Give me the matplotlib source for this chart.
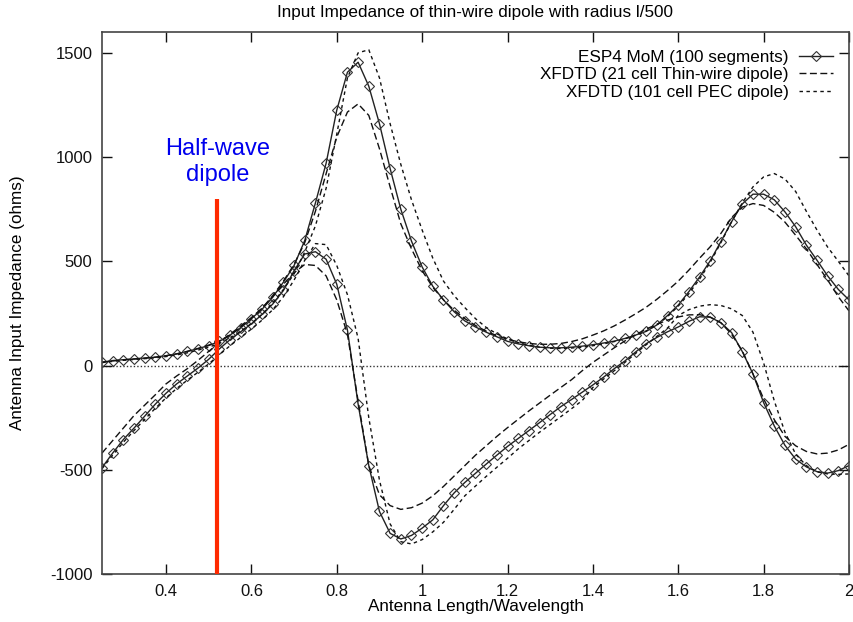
import numpy as np
import matplotlib
matplotlib.use("Agg")
import matplotlib.pyplot as plt

plt.rcParams['font.family'] = ['Liberation Sans', 'DejaVu Sans']

# electrical length grid (antenna length / wavelength)
x_len = np.round(np.arange(0.25, 2.0001, 0.025), 3)

# ESP4 MoM (100 segments)
mom_R = [15, 24, 28, 32, 36, 40, 47, 56, 68, 81, 96, 116, 146, 182, 225, 270, 328, 400, 480, 600,
         780, 970, 1225, 1407, 1455, 1340, 1160, 945, 750, 597, 473, 380, 315, 258, 214, 185, 160, 138,
         116, 104, 95, 88, 85, 85, 88, 93, 100, 108, 117, 130, 146, 164, 195, 240, 290, 355, 425, 503,
         595, 690, 775, 822, 822, 795, 737, 666, 578, 505, 430, 365, 315]
mom_X = [-490, -420, -355, -300, -243, -185, -133, -88, -50, -12, 30, 80, 124, 162, 200, 245, 295, 360,
         455, 535, 546, 510, 390, 170, -185, -480, -700, -805, -832, -815, -780, -740, -672, -611, -561,
         -517, -473, -430, -388, -350, -312, -274, -235, -197, -163, -128, -93, -56, -15, 22, 65, 105,
         135, 162, 185, 212, 234, 232, 205, 158, 67, -40, -178, -290, -383, -449, -486, -509, -516,
         -504, -480]

# XFDTD (21 cell Thin-wire dipole)
fd21_R = [16, 22, 27, 31, 35, 40, 47, 56, 68, 82, 98, 118, 147, 183, 226, 275, 335, 405, 485, 590,
          740, 920, 1096, 1216, 1255, 1200, 1040, 857, 680, 560, 455, 375, 315, 265, 225, 192, 165, 143,
          126, 114, 106, 102, 102, 106, 115, 128, 146, 166, 190, 218, 248, 280, 318, 360, 405, 458, 515,
          570, 634, 710, 760, 777, 768, 735, 688, 625, 560, 485, 410, 330, 262]
fd21_X = [-420, -360, -300, -240, -190, -140, -88, -50, -15, 25, 68, 110, 150, 190, 230, 275, 330, 390,
          445, 485, 480, 430, 315, 150, -170, -480, -620, -672, -690, -682, -660, -625, -580, -530, -480,
          -430, -385, -340, -298, -258, -218, -180, -142, -105, -68, -25, 15, 50, 85, 118, 148, 175,
          198, 218, 233, 243, 244, 232, 205, 150, 70, -40, -160, -260, -340, -385, -412, -424, -420,
          -405, -378]

# XFDTD (101 cell PEC dipole)
fd101_R = [14, 20, 25, 29, 33, 37, 43, 51, 61, 74, 88, 106, 132, 164, 202, 246, 300, 365, 440, 545,
           670, 850, 1110, 1380, 1500, 1515, 1380, 1160, 965, 795, 650, 515, 405, 335, 278, 225, 183,
           152, 128, 110, 97, 88, 83, 82, 84, 88, 95, 104, 115, 128, 145, 166, 195, 235, 285, 345, 415,
           495, 590, 690, 780, 857, 905, 921, 895, 835, 740, 650, 568, 500, 430]
fd101_X = [-495, -430, -368, -312, -258, -205, -155, -110, -70, -32, 8, 52, 95, 135, 175, 218, 268, 330,
           410, 505, 585, 580, 480, 340, 130, -250, -550, -760, -845, -856, -835, -798, -752, -690,
           -625, -578, -532, -488, -445, -400, -360, -320, -283, -245, -207, -168, -105, -65, -25, 15,
           58, 100, 140, 180, 240, 268, 285, 292, 288, 272, 240, 160, 13, -170, -320, -425, -480, -510,
           -520, -522, -520]

half_wave = 0.52
half_wave_top = 800

x_ticks = [0.4, 0.6, 0.8, 1.0, 1.2, 1.4, 1.6, 1.8, 2.0]
x_ticklabels = ["0.4", "0.6", "0.8", "1", "1.2", "1.4", "1.6", "1.8", "2"]
y_ticks = [-1000, -500, 0, 500, 1000, 1500]
y_ticklabels = ["-1000", "-500", "0", "500", "1000", "1500"]

W, H = 854, 622
L, R, T, B = 102, 849, 32, 574
fig = plt.figure(figsize=(W / 100, H / 100), dpi=100)
ax = fig.add_axes([L / W, 1 - B / H, (R - L) / W, (B - T) / H])

fs = 12.3
ax.axhline(0, color='#333333', lw=1.0, ls=(0, (1, 1.5)), zorder=1)

mom_style = dict(color='#222222', lw=1.0, marker='D', ms=5.5, mfc='none', mec='#333333', mew=0.8)
ax.plot(x_len, mom_R, label='ESP4 MoM (100 segments)', **mom_style)
ax.plot(x_len, mom_X, **mom_style)

ld = dict(color='#111111', lw=1.0, ls=(0, (5, 2.5)))
ax.plot(x_len, fd21_R, label='XFDTD (21 cell Thin-wire dipole)', **ld)
ax.plot(x_len, fd21_X, **ld)

sd = dict(color='#111111', lw=1.0, ls=(0, (2.5, 2.5)))
ax.plot(x_len, fd101_R, label='XFDTD (101 cell PEC dipole)', **sd)
ax.plot(x_len, fd101_X, **sd)

ax.plot([half_wave, half_wave], [-1000, half_wave_top], color='#FF2A00', lw=3, solid_capstyle='butt', zorder=5)
ax.text(half_wave, 975, "Half-wave\ndipole", color='#0000EE', fontsize=17, ha='center', va='center',
        linespacing=1.25)

ax.set_xlim(0.25, 2.0)
ax.set_ylim(-1000, 1600)
ax.set_xticks(x_ticks)
ax.set_xticklabels(x_ticklabels)
ax.set_yticks(y_ticks)
ax.set_yticklabels(y_ticklabels)
ax.tick_params(direction='in', length=7, width=1, top=True, right=True, labelsize=12, colors='#111111',
               pad=7)
for s in ax.spines.values():
    s.set_color('#444444')
    s.set_linewidth(1.2)

ax.text(0.5, 1 + (T - 13) / (B - T), "Input Impedance of thin-wire dipole with radius l/500",
        transform=ax.transAxes, fontsize=fs, ha='center', va='center')
ax.set_xlabel("Antenna Length/Wavelength", fontsize=fs, va='center')
ax.xaxis.set_label_coords(0.5, -(607 - B) / (B - T))
ax.set_ylabel("Antenna Input Impedance (ohms)", fontsize=fs, va='center')
ax.yaxis.set_label_coords(-(L - 18) / (R - L), 0.5)

ax.legend(loc='upper right', frameon=False, markerfirst=False, fontsize=fs, handlelength=2.0,
          handletextpad=0.6, labelspacing=0.15, borderpad=0.4, borderaxespad=0.0,
          bbox_to_anchor=((840 - L) / (R - L), (B - 43) / (B - T)))

fig.savefig("out.png", dpi=100)
